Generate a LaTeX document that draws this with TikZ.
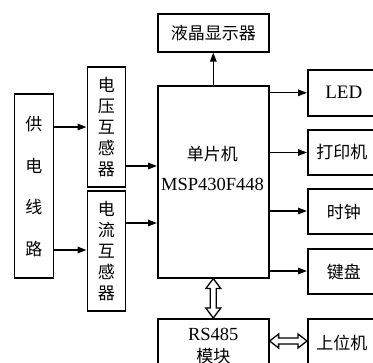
\documentclass[tikz,border=0pt]{standalone}
\usepackage{fontspec}
\setmainfont{Liberation Serif}
\newfontfamily\cjk{Noto Sans CJK SC}
\usetikzlibrary{arrows.meta,calc}
\begin{document}
\begin{tikzpicture}[x=1pt,y=-1pt,
  box/.style={draw,line width=1.6pt,inner sep=0pt,anchor=north west,align=center},
  conn/.style={line width=1.4pt,-{Triangle[length=9pt,width=6.5pt]}},
  hollow/.style={draw,line width=1.3pt,fill=white,line join=miter},
  zh/.style={font=\cjk\fontsize{17}{21}\selectfont},
  la/.style={font=\fontsize{19}{21}\selectfont}]
\useasboundingbox (0,0) rectangle (373,363);
\clip (0,0) rectangle (373,363);
% left
\node[box,zh,font=\cjk\fontsize{17}{41.5}\selectfont,minimum width=39,minimum height=184] (gd) at (13.5,93.5) {供\\电\\线\\路};
\node[box,zh,minimum width=38,minimum height=120] (vt) at (86.5,66) {电\\压\\互\\感\\器};
\node[box,zh,minimum width=38,minimum height=120] (ct) at (86.5,190) {电\\流\\互\\感\\器};
% centre
\node[box,minimum width=111,minimum height=192] (mcu) at (157,85) {};
\node[align=center,inner sep=0pt,font=\fontsize{18.5}{30}\selectfont] (mcut) at (212.5,168) {{\cjk\fontsize{17}{30}\selectfont 单片机}\\MSP430F448};
\node[box,zh,minimum width=111,minimum height=38] (lcd) at (157,13) {液晶显示器};
\node[box,minimum width=111,minimum height=54,align=center,font=\fontsize{18.5}{21.5}\selectfont] (rs) at (157,318) {RS485\\{\cjk\fontsize{17}{21.5}\selectfont 模块}};
% right
\node[box,la,minimum width=72,minimum height=46] (led) at (307,69) {LED};
\node[box,zh,minimum width=72,minimum height=45] (prn) at (307,129) {\hspace*{-4pt}打印机};
\node[box,zh,minimum width=72,minimum height=45] (clk) at (307,188.5) {时钟};
\node[box,zh,minimum width=72,minimum height=45] (kbd) at (307,248.5) {键盘};
\node[box,zh,minimum width=72,minimum height=48] (pc) at (307,318) {\hspace*{-4pt}上位机};
% connectors
\draw[conn] (gd.east |- 0,127) -- (vt.west |- 0,127);
\draw[conn] (gd.east |- 0,250) -- (ct.west |- 0,250);
\draw[conn] (vt.east |- 0,166) -- (mcu.west |- 0,166);
\draw[conn] (ct.east |- 0,223) -- (mcu.west |- 0,223);
\draw[conn] (mcu.north) -- (lcd.south);
\draw[conn] (mcu.east |- led.west) -- (led.west);
\draw[conn] (mcu.east |- 0,152.5) -- (prn.west |- 0,152.5);
\draw[conn] (mcu.east |- 0,211) -- (clk.west |- 0,211);
\draw[conn] (mcu.east |- 0,271) -- (kbd.west |- 0,271);
% hollow double arrows
\coordinate (va) at (mcu.south);
\coordinate (vb) at (rs.north);
\draw[hollow] (va) -- ($(va)+(7.5,10)$) -- ($(va)+(3,10)$) -- ($(vb)+(3,-10)$) -- ($(vb)+(7.5,-10)$) -- (vb)
  -- ($(vb)+(-7.5,-10)$) -- ($(vb)+(-3,-10)$) -- ($(va)+(-3,10)$) -- ($(va)+(-7.5,10)$) -- cycle;
\coordinate (ha) at ($(rs.north east)+(0,23)$);
\coordinate (hb) at ($(pc.north west)+(0,23)$);
\draw[hollow] (ha) -- ($(ha)+(9,-7)$) -- ($(ha)+(9,-3)$) -- ($(hb)+(-9,-3)$) -- ($(hb)+(-9,-7)$) -- (hb)
  -- ($(hb)+(-9,7)$) -- ($(hb)+(-9,3)$) -- ($(ha)+(9,3)$) -- ($(ha)+(9,7)$) -- cycle;
\end{tikzpicture}
\end{document}
